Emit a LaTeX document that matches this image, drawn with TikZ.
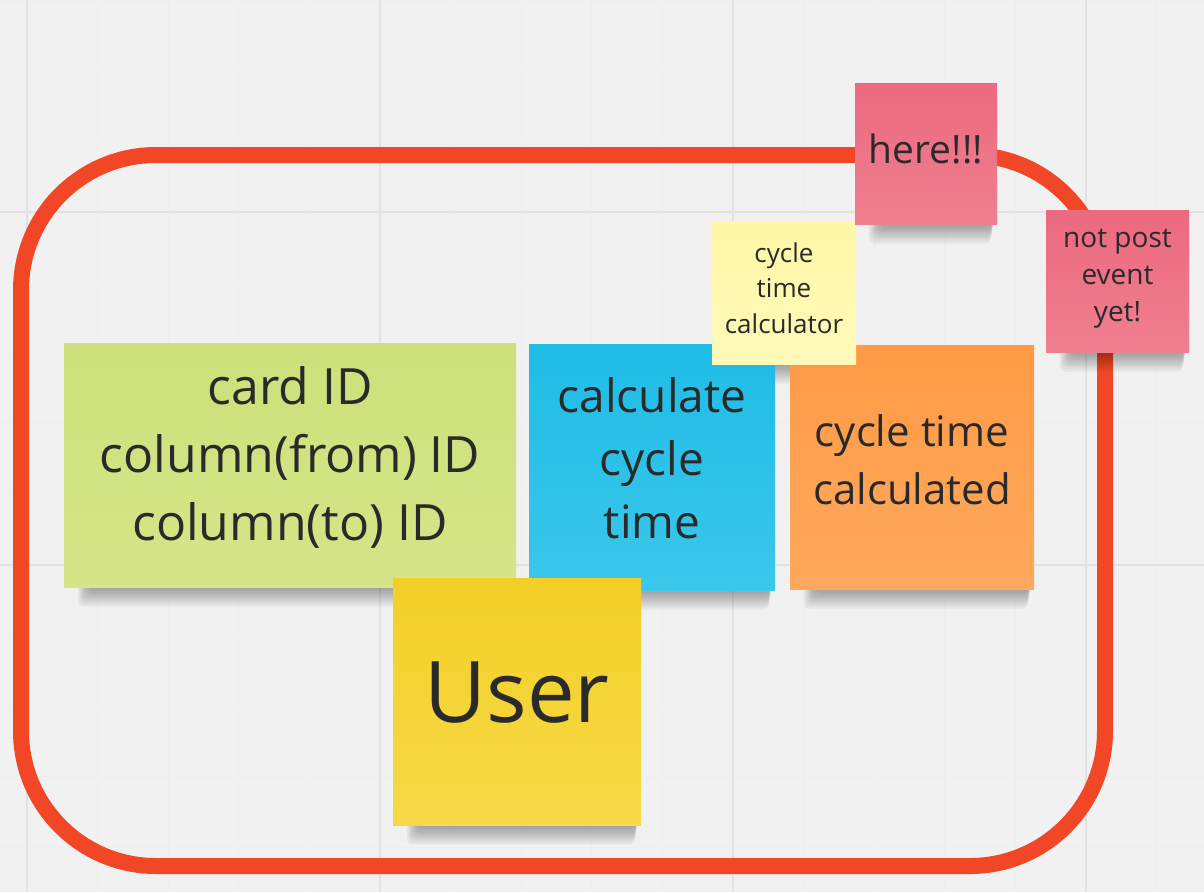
\documentclass[tikz,border=0pt]{standalone}
\usepackage{fontspec}
\setmainfont{Open Sans}
\pgfdeclarelayer{board}
\pgfdeclarelayer{shade}
\pgfsetlayers{board,shade,main}
\definecolor{boardbg}{HTML}{F1F1F1}
\definecolor{gridmaj}{HTML}{E2E2E2}
\definecolor{gridmin}{HTML}{EEEEEE}
\definecolor{redline}{HTML}{F24726}
\definecolor{ink}{HTML}{2A2A2A}
\definecolor{greenA}{HTML}{CDE07A}
\definecolor{greenB}{HTML}{D6E588}
\definecolor{blueA}{HTML}{1FBCE6}
\definecolor{blueB}{HTML}{3BC7EA}
\definecolor{orangeA}{HTML}{FF9A45}
\definecolor{orangeB}{HTML}{FFA95E}
\definecolor{lyelA}{HTML}{FFF7A6}
\definecolor{lyelB}{HTML}{FFFABA}
\definecolor{pinkA}{HTML}{EC6980}
\definecolor{pinkB}{HTML}{F07F90}
\definecolor{yelA}{HTML}{F3CF26}
\definecolor{yelB}{HTML}{F6D947}
\tikzset{
  gridmajor/.style={draw=gridmaj, line width=1.3pt},
  gridminor/.style={draw=gridmin, line width=0.8pt},
  frame/.style={draw=redline, line width=16pt, rounded corners=135pt},
  sticky/.style={rectangle, inner sep=0pt},
  notetext/.style={inner sep=0pt, align=center, text=ink},
  greennote/.style={sticky, top color=greenA, bottom color=greenB},
  bluenote/.style={sticky, top color=blueA, bottom color=blueB},
  orangenote/.style={sticky, top color=orangeA, bottom color=orangeB},
  lyelnote/.style={sticky, top color=lyelA, bottom color=lyelB},
  pinknote/.style={sticky, top color=pinkA, bottom color=pinkB},
  yelnote/.style={sticky, top color=yelA, bottom color=yelB},
  shadowpiece/.style={fill=black, opacity=0.042, rounded corners=6pt},
}
\newcommand\stickyshadow[1]{%
  \begin{pgfonlayer}{shade}
    \foreach \k in {1,...,8}{
      \fill[shadowpiece] ([xshift={(26-1.5*\k)*1pt}, yshift=12pt]#1.south west)
        rectangle ([xshift={(-3-0.4*\k)*1pt}, yshift={-(1+2.3*\k)*1pt}]#1.south east);
    }
  \end{pgfonlayer}}
\begin{document}
\begin{tikzpicture}[x=1pt, y=-1pt]
  \useasboundingbox (0,0) rectangle (1204,892);
  \begin{pgfonlayer}{board}
    \fill[boardbg] (0,0) rectangle (1204,892);
    \foreach \i in {-1,...,17}{
      \draw[gridminor] ({27+70.6*\i},0) -- ++(0,892);
    }
    \foreach \i in {-3,...,10}{
      \draw[gridminor] (0,{212+70.6*\i}) -- ++(1204,0);
    }
    \foreach \gx in {27,380,733,1086}{
      \draw[gridmajor] (\gx,0) -- ++(0,892);
    }
    \foreach \gy in {212,565}{
      \draw[gridmajor] (0,\gy) -- ++(1204,0);
    }
    \draw[frame] (21,155) rectangle (1105,866);
  \end{pgfonlayer}

  % sticky notes
  \node[greennote, minimum width=452pt, minimum height=244pt] (card) at (290,465) {};
  \node[notetext, font=\fontsize{50}{68}\selectfont, yshift=8pt] (cardtext) at (card)
        {card ID\\column(from) ID\\column(to) ID};

  \node[bluenote, minimum width=246pt, minimum height=246pt] (calc) at (652,467) {};
  \node[notetext, font=\fontsize{46}{63}\selectfont, yshift=9pt] (calctext) at (calc)
        {calculate\\cycle\\time};

  \node[orangenote, minimum width=244pt, minimum height=244pt] (done) at (912,467) {};
  \node[notetext, font=\fontsize{42}{58}\selectfont, yshift=7pt] (donetext) at (done)
        {cycle time\\calculated};

  \node[lyelnote, minimum width=144pt, minimum height=142pt] (calculator) at (784,293) {};
  \node[notetext, font=\fontsize{26}{35.5}\selectfont, yshift=5pt] (calculatortext) at (calculator)
        {cycle\\time\\calculator};

  \node[pinknote, minimum width=142pt, minimum height=141pt] (here) at (926,153.5) {};
  \node[notetext, font=\fontsize{39}{53}\selectfont, yshift=5pt] (heretext) at (here)
        {here!!!};

  \node[pinknote, minimum width=143pt, minimum height=142pt] (notpost) at (1117.5,281) {};
  \node[notetext, font=\fontsize{28}{37}\selectfont, yshift=2pt] (notposttext) at (notpost)
        {not post\\event\\yet!};

  \node[yelnote, minimum width=248pt, minimum height=247pt] (user) at (517,701.5) {};
  \node[notetext, font=\fontsize{85}{116}\selectfont, yshift=9pt] (usertext) at (user)
        {User};

  \stickyshadow{card}
  \stickyshadow{calc}
  \stickyshadow{done}
  \stickyshadow{calculator}
  \stickyshadow{here}
  \stickyshadow{notpost}
  \stickyshadow{user}
\end{tikzpicture}
\end{document}
